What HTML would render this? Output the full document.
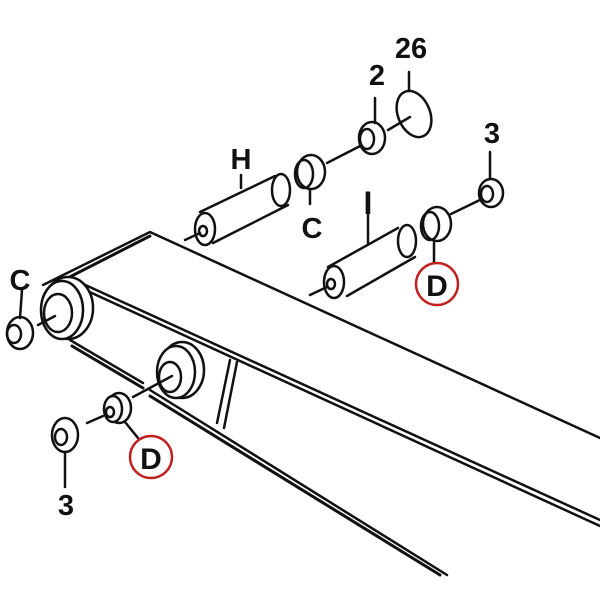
<!DOCTYPE html>
<html><head><style>
html,body{margin:0;padding:0;background:#fff;}
svg{display:block}
text{font-family:"Liberation Sans",sans-serif;font-weight:bold;fill:#111}
</style></head><body>
<svg width="600" height="600" viewBox="0 0 600 600" xmlns="http://www.w3.org/2000/svg">
<g stroke="#111" stroke-width="2.5" fill="none" stroke-linejoin="round" stroke-linecap="round">
<!-- boom -->
<path d="M43 285 L150 232 L600 438"/>
<path d="M50 287 L150 236" stroke-width="3"/>
<path d="M70 278 L600 520"/>
<path d="M70 283 L600 526"/>
<path d="M70 340 L143 383"/>
<path d="M72 346 L143 388" stroke-width="3"/>
<path d="M150 390 L447 575"/>
<path d="M150 396 L440 575" stroke-width="3"/>
<!-- strut -->
<path d="M230 360 L217 423 M237 362 L224 428"/>
<!-- left big boss -->
<ellipse cx="68" cy="308" rx="25" ry="31" fill="#fff"/>
<ellipse cx="62" cy="310" rx="21" ry="29" fill="#fff"/>
<ellipse cx="58" cy="313" rx="14" ry="19"/>
<path d="M38 325 L55 316"/>
<!-- right boss -->
<ellipse cx="182" cy="370" rx="22" ry="28" fill="#fff"/>
<ellipse cx="176" cy="372" rx="19" ry="26" fill="#fff"/>
<ellipse cx="170" cy="377" rx="11" ry="15"/>
<path d="M133 397 L172 376"/>
<!-- small C left -->
<ellipse cx="20" cy="333" rx="13" ry="16" fill="#fff"/>
<ellipse cx="14" cy="334" rx="7" ry="9"/>
<path d="M22 290 L20 318"/>
<!-- D bushing lower -->
<ellipse cx="119" cy="408" rx="12" ry="15" fill="#fff"/>
<ellipse cx="113" cy="409" rx="9" ry="13" fill="#fff"/>
<ellipse cx="110" cy="412" rx="4" ry="5"/>
<path d="M87 423 L103 416"/>
<path d="M125 422 L138 438"/>
<!-- ring 3 lower -->
<ellipse cx="65" cy="435" rx="13" ry="17"/>
<ellipse cx="61" cy="437" rx="6" ry="8"/>
<path d="M65 452 L65 487"/>
<!-- H pin -->
<path d="M200 212 L275 176 M213 243 L288 205"/>
<ellipse cx="281" cy="190" rx="9" ry="16"/>
<ellipse cx="205" cy="229" rx="10" ry="16" fill="#fff"/>
<ellipse cx="203" cy="231" rx="4" ry="5"/>
<path d="M185 240 L200 233"/>
<path d="M241 175 L241 188"/>
<!-- C bushing -->
<ellipse cx="311" cy="172" rx="14" ry="17" fill="#fff"/>
<ellipse cx="304" cy="174" rx="9" ry="14"/>
<path d="M310 190 L310 204"/>
<path d="M327 163 L366 143"/>
<!-- ring 2 -->
<ellipse cx="372" cy="138" rx="13" ry="16" fill="#fff"/>
<ellipse cx="367" cy="139" rx="7" ry="10"/>
<path d="M375 98 L375 123"/>
<path d="M388 130 L410 117"/>
<!-- ring 26 -->
<ellipse cx="414" cy="114" rx="16" ry="24" transform="rotate(-22 414 114)"/>
<path d="M409 72 L409 91"/>
<!-- I pin -->
<path d="M328 267 L398 228 M347 296 L415 257"/>
<ellipse cx="407" cy="241" rx="9" ry="16"/>
<ellipse cx="334" cy="282" rx="10" ry="16" fill="#fff"/>
<ellipse cx="331" cy="284" rx="4" ry="5"/>
<path d="M310 295 L327 287"/>
<path d="M368 210 L368 243"/>
<!-- D bushing upper -->
<ellipse cx="437" cy="224" rx="14" ry="17" fill="#fff"/>
<ellipse cx="430" cy="226" rx="9" ry="14"/>
<path d="M434 243 L434 263"/>
<path d="M451 214 L486 197"/>
<!-- ring 3 upper -->
<ellipse cx="491" cy="193" rx="12" ry="14" fill="#fff"/>
<ellipse cx="487" cy="194" rx="6" ry="8"/>
<path d="M490 152 L490 179"/>
</g>
<!-- red circles -->
<circle cx="437" cy="284" r="21" fill="none" stroke="#c02020" stroke-width="2.5"/>
<circle cx="151" cy="457" r="21" fill="none" stroke="#c02020" stroke-width="2.5"/>
<text x="437" y="296" font-size="30" text-anchor="middle">D</text>
<text x="151" y="469" font-size="30" text-anchor="middle">D</text>
<text x="411" y="58" font-size="29" text-anchor="middle">26</text>
<text x="377" y="85" font-size="29" text-anchor="middle">2</text>
<text x="241" y="169" font-size="29" text-anchor="middle">H</text>
<text x="312" y="238" font-size="29" text-anchor="middle">C</text>
<text x="368" y="214" font-size="32" text-anchor="middle">I</text>
<text x="492" y="143" font-size="29" text-anchor="middle">3</text>
<text x="20" y="290" font-size="29" text-anchor="middle">C</text>
<text x="66" y="515" font-size="29" text-anchor="middle">3</text>
</svg>
</body></html>
